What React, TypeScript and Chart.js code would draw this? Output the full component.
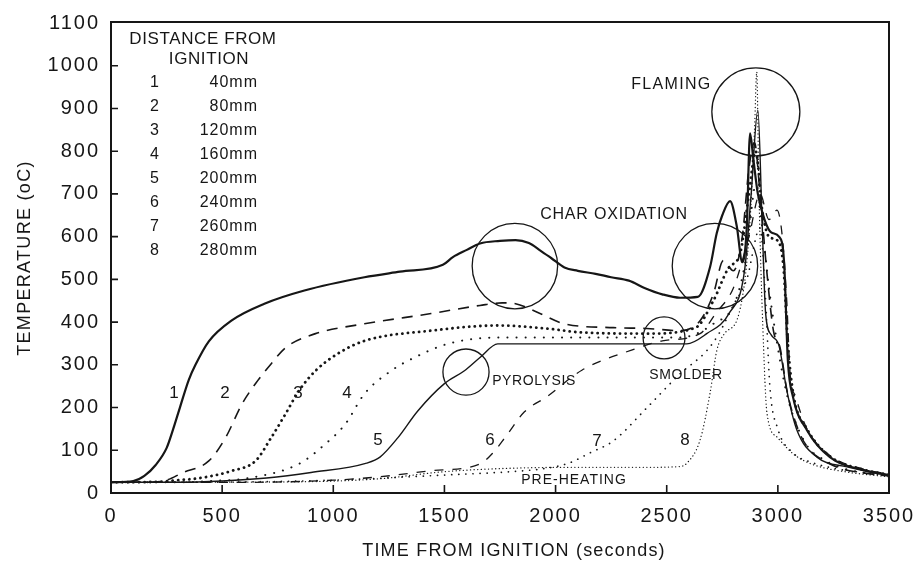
import React, { useEffect, useRef } from "react";
import { Chart, registerables } from "chart.js";

Chart.register(...registerables);

// ---------- data (time in seconds, temperature in °C) ----------
const time1 = [0, 100, 150, 200, 250, 280, 310, 350, 380, 440, 540, 690, 870, 1140, 1300, 1493, 1538, 1601, 1660, 1750, 1820, 1880, 1930, 1980, 2040, 2100, 2180, 2250, 2330, 2400, 2480, 2560, 2640, 2695, 2725, 2750, 2785, 2815, 2840, 2860, 2875, 2890, 2910, 2940, 2970, 3005, 3028, 3045, 3068, 3131, 3234, 3383, 3500];
const temp1 = [25, 28, 40, 65, 105, 150, 200, 265, 300, 355, 403, 443, 474, 505, 518, 534, 552, 569, 584, 590, 592, 585, 568, 550, 528, 520, 513, 505, 497, 480, 465, 457, 459, 529, 608, 650, 683, 625, 540, 620, 842, 780, 700, 640, 610, 600, 540, 310, 225, 147, 84, 54, 42];

const time2 = [0, 150, 250, 320, 440, 515, 590, 660, 720, 785, 920, 1140, 1440, 1660, 1760, 1820, 1930, 2040, 2260, 2410, 2560, 2650, 2710, 2755, 2800, 2840, 2870, 2895, 2920, 2950, 2980, 3010, 3041, 3090, 3144, 3200, 3279, 3400, 3500];
const temp2 = [25, 25, 30, 47, 75, 129, 209, 263, 302, 340, 373, 396, 420, 439, 445, 443, 420, 396, 387, 385, 380, 403, 466, 544, 520, 600, 760, 820, 700, 520, 380, 340, 240, 150, 100, 78, 58, 46, 40];

const time3 = [0, 200, 300, 400, 545, 650, 720, 785, 845, 920, 1020, 1140, 1440, 1740, 1960, 2110, 2410, 2630, 2710, 2780, 2830, 2870, 2900, 2930, 2960, 3000, 3025, 3045, 3070, 3131, 3234, 3383, 3500];
const temp3 = [25, 26, 30, 35, 52, 75, 129, 185, 239, 286, 326, 356, 380, 392, 385, 376, 373, 387, 450, 528, 560, 700, 800, 660, 600, 590, 530, 350, 230, 150, 86, 55, 43];

const time4 = [0, 300, 450, 620, 845, 965, 1055, 1140, 1260, 1365, 1515, 1740, 1960, 2260, 2560, 2710, 2810, 2860, 2900, 2930, 2960, 3000, 3041, 3090, 3144, 3200, 3279, 3400, 3500];
const temp4 = [25, 25, 28, 35, 68, 115, 162, 232, 286, 317, 349, 364, 364, 364, 364, 396, 450, 560, 720, 620, 480, 340, 230, 152, 102, 80, 60, 46, 40];

const time5 = [0, 300, 500, 700, 900, 1150, 1210, 1290, 1380, 1500, 1590, 1660, 1740, 1960, 2410, 2590, 2680, 2780, 2850, 2880, 2910, 2930, 2945, 2970, 3005, 3040, 3086, 3176, 3311, 3500];
const temp5 = [25, 25, 28, 35, 48, 70, 84, 129, 192, 256, 286, 317, 349, 349, 349, 349, 373, 420, 520, 700, 896, 620, 420, 370, 345, 241, 147, 84, 61, 40];

const time6 = [0, 600, 1000, 1210, 1440, 1660, 1720, 1780, 1860, 1960, 2120, 2345, 2480, 2650, 2720, 2800, 2870, 2920, 2960, 2996, 3020, 3040, 3055, 3080, 3131, 3234, 3383, 3500];
const temp6 = [25, 25, 30, 38, 52, 68, 95, 135, 190, 225, 288, 335, 356, 373, 420, 480, 600, 700, 640, 662, 600, 450, 280, 225, 150, 88, 56, 44];

const time7 = [0, 600, 1000, 1500, 1800, 1960, 2060, 2155, 2260, 2410, 2560, 2680, 2735, 2800, 2860, 2920, 2945, 2964, 3000, 3068, 3150, 3250, 3350, 3500];
const temp7 = [25, 26, 30, 42, 50, 58, 70, 94, 122, 199, 279, 333, 373, 440, 500, 620, 450, 250, 150, 94, 72, 58, 50, 40];

const time8 = [0, 800, 1200, 1500, 1800, 2100, 2400, 2560, 2591, 2650, 2695, 2726, 2760, 2825, 2870, 2895, 2905, 2915, 2933, 2951, 2996, 3068, 3150, 3300, 3500];
const temp8 = [25, 26, 33, 50, 58, 60, 60, 62, 70, 124, 234, 335, 373, 420, 600, 850, 985, 700, 380, 187, 131, 92, 68, 50, 38];

const seriesTimes = [time1, time2, time3, time4, time5, time6, time7, time8];
const seriesTemps = [temp1, temp2, temp3, temp4, temp5, temp6, temp7, temp8];
const seriesNumbers = ["1", "2", "3", "4", "5", "6", "7", "8"];
const distances = ["40mm", "80mm", "120mm", "160mm", "200mm", "240mm", "260mm", "280mm"];

// curve number labels (placed in data coordinates)
const numberLabelTimes = [283, 513, 841, 1062, 1201, 1705, 2186, 2582];
const numberLabelTemps = [234, 234, 234, 234, 124, 124, 122, 124];

// phase annotations
const phaseNames = ["FLAMING", "CHAR OXIDATION", "PYROLYSIS", "SMOLDER", "PRE-HEATING"];
const phaseTimes = [2521, 2263, 1903, 2587, 2083];
const phaseTemps = [955, 651, 262, 276, 30];

// circles: centre (time, temp) and radius in °C units
const circleTimes = [1817, 2717, 2901, 1597, 2488];
const circleTemps = [531, 531, 892, 283, 363];
const circleRadii = [100, 100, 103, 54, 49];

const xTicks = [0, 500, 1000, 1500, 2000, 2500, 3000, 3500];
const yTicks = [0, 100, 200, 300, 400, 500, 600, 700, 800, 900, 1000, 1100];

// ---------- styles ----------
const INK = "#161616";
const FONT = '"Liberation Sans", Arial, Helvetica, sans-serif';
const lineStyles = [
  { borderWidth: 2.2, borderDash: [] as number[], cap: "butt" },
  { borderWidth: 1.6, borderDash: [11, 8], cap: "butt" },
  { borderWidth: 2.8, borderDash: [0.1, 5.5], cap: "round" },
  { borderWidth: 2.0, borderDash: [0.1, 9], cap: "round" },
  { borderWidth: 1.4, borderDash: [] as number[], cap: "butt" },
  { borderWidth: 1.3, borderDash: [9, 9], cap: "butt" },
  { borderWidth: 1.7, borderDash: [0.1, 7], cap: "round" },
  { borderWidth: 1.3, borderDash: [0.1, 3.5], cap: "round" },
];

const decorPlugin = {
  id: "decor",
  beforeDraw(chart: any) {
    chart.ctx.letterSpacing = "2px";
  },
  beforeDatasetsDraw(chart: any) {
    chart.ctx.letterSpacing = "0px";
  },
  afterDraw(chart: any) {
    const { ctx, chartArea } = chart;
    const { left, right, top, bottom } = chartArea;
    const xs = chart.scales.x;
    const ys = chart.scales.y;
    ctx.save();
    ctx.letterSpacing = "0px";
    ctx.strokeStyle = INK;
    ctx.fillStyle = INK;
    // frame
    ctx.lineWidth = 2;
    ctx.strokeRect(left, top - 1, right - left, bottom - top + 1);
    // inward ticks
    ctx.lineWidth = 1.6;
    ctx.beginPath();
    yTicks.forEach((v) => {
      if (v === 0 || v === 1100) return;
      const py = ys.getPixelForValue(v);
      ctx.moveTo(left, py);
      ctx.lineTo(left + 7, py);
    });
    xTicks.forEach((v) => {
      if (v === 0 || v === 3500) return;
      const px = xs.getPixelForValue(v);
      ctx.moveTo(px, bottom);
      ctx.lineTo(px, bottom - 8);
    });
    ctx.stroke();

    // circles
    ctx.lineWidth = 1.3;
    circleTimes.forEach((t, i) => {
      const cx = xs.getPixelForValue(t);
      const cy = ys.getPixelForValue(circleTemps[i]);
      const r = Math.abs(ys.getPixelForValue(0) - ys.getPixelForValue(circleRadii[i]));
      ctx.beginPath();
      ctx.arc(cx, cy, r, 0, Math.PI * 2);
      ctx.stroke();
    });

    // curve numbers
    ctx.textAlign = "center";
    ctx.textBaseline = "middle";
    ctx.font = `17px ${FONT}`;
    numberLabelTimes.forEach((t, i) => {
      ctx.fillText(seriesNumbers[i], xs.getPixelForValue(t), ys.getPixelForValue(numberLabelTemps[i]));
    });

    // phase names
    const phaseSizes = [16, 16, 14, 14, 14];
    const phaseSpacing = [1.3, 0.8, 0.6, 0.6, 1];
    phaseNames.forEach((name, i) => {
      ctx.font = `${phaseSizes[i]}px ${FONT}`;
      ctx.letterSpacing = `${phaseSpacing[i]}px`;
      ctx.fillText(name, xs.getPixelForValue(phaseTimes[i]), ys.getPixelForValue(phaseTemps[i]));
    });

    // legend block
    ctx.font = `17px ${FONT}`;
    ctx.letterSpacing = "0.6px";
    ctx.fillText("DISTANCE FROM", left + 92, top + 16);
    ctx.fillText("IGNITION", left + 98, top + 36);
    ctx.font = `16px ${FONT}`;
    ctx.letterSpacing = "1px";
    seriesNumbers.forEach((n, i) => {
      const py = top + 60 + i * 23.9;
      ctx.textAlign = "center";
      ctx.fillText(n, left + 44, py);
      ctx.textAlign = "right";
      ctx.fillText(distances[i], left + 147, py);
    });

    // axis titles
    ctx.textAlign = "center";
    ctx.font = `18px ${FONT}`;
    ctx.letterSpacing = "1.2px";
    ctx.fillText("TIME FROM IGNITION (seconds)", 514, 551);
    ctx.save();
    ctx.translate(25, (top + bottom) / 2);
    ctx.rotate(-Math.PI / 2);
    ctx.letterSpacing = "1.3px";
    ctx.fillText("TEMPERATURE (oC)", 0, 0);
    ctx.restore();

    ctx.restore();
  },
};

export default function App() {
  const canvasRef = useRef<HTMLCanvasElement | null>(null);

  useEffect(() => {
    const canvas = canvasRef.current;
    if (!canvas) return;
    const datasets = seriesTimes.map((times, i) => ({
      label: seriesNumbers[i],
      data: times.map((t, j) => ({ x: t, y: seriesTemps[i][j] })),
      borderColor: INK,
      backgroundColor: INK,
      borderWidth: lineStyles[i].borderWidth,
      borderDash: lineStyles[i].borderDash,
      borderCapStyle: lineStyles[i].cap as any,
      pointRadius: 0,
      cubicInterpolationMode: "monotone" as const,
      fill: false,
    }));

    const chart = new Chart(canvas, {
      type: "line",
      data: { datasets },
      options: {
        animation: false,
        responsive: false,
        maintainAspectRatio: false,
        layout: { padding: { left: 0, top: 23, right: 28, bottom: 0 } },
        plugins: { legend: { display: false }, tooltip: { enabled: false }, title: { display: false } },
        scales: {
          x: {
            type: "linear",
            min: 0,
            max: 3500,
            afterFit: (s: any) => {
              s.height = 73;
              s.paddingLeft = 0;
              s.paddingRight = 0;
            },
            afterBuildTicks: (s: any) => {
              s.ticks = xTicks.map((v) => ({ value: v }));
            },
            ticks: {
              autoSkip: false,
              color: INK,
              padding: 11,
              font: { family: FONT, size: 20 },
              maxRotation: 0,
              callback: (v: any) => String(v),
            },
            grid: { display: false, drawTicks: false },
            border: { display: false },
          },
          y: {
            type: "linear",
            min: 0,
            max: 1100,
            afterFit: (s: any) => {
              s.width = 111;
              s.paddingTop = 0;
              s.paddingBottom = 0;
            },
            afterBuildTicks: (s: any) => {
              s.ticks = yTicks.map((v) => ({ value: v }));
            },
            ticks: {
              autoSkip: false,
              color: INK,
              padding: 11,
              font: { family: FONT, size: 20 },
              callback: (v: any) => String(v),
            },
            grid: { display: false, drawTicks: false },
            border: { display: false },
          },
        },
      },
      plugins: [decorPlugin],
    });
    return () => chart.destroy();
  }, []);

  return (
    <div style={{ position: "absolute", left: 0, top: 0, width: 917, height: 566, background: "#fff" }}>
      <canvas ref={canvasRef} width={917} height={566} style={{ display: "block" }} />
    </div>
  );
}
